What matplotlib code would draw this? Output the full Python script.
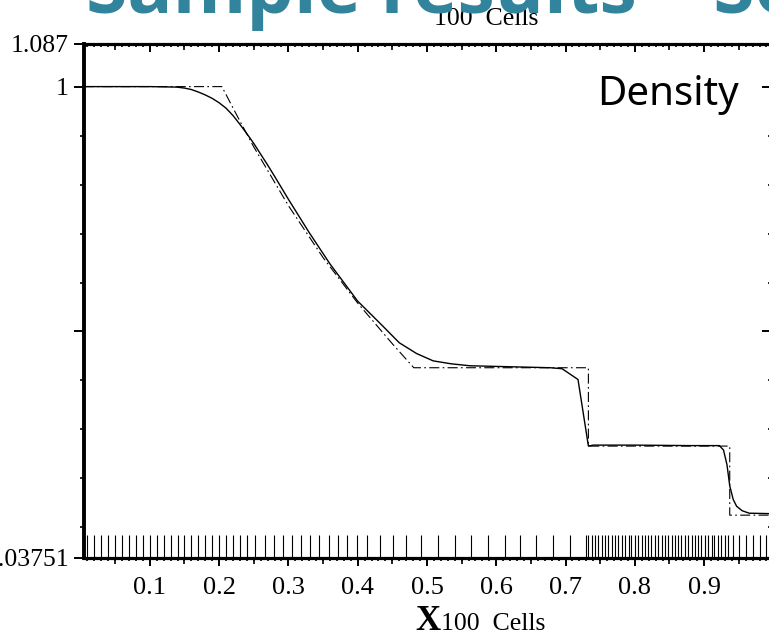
import matplotlib
matplotlib.use("Agg")
import matplotlib.pyplot as plt
from matplotlib.ticker import MultipleLocator, FixedLocator
import matplotlib.transforms as mtransforms

# exact (Riemann) solution
exact_x = [0.005, 0.204, 0.225, 0.25, 0.30, 0.35, 0.40, 0.45, 0.481,
           0.733, 0.733, 0.937, 0.937, 0.998]
exact_rho = [1.0, 1.0, 0.943, 0.877, 0.757, 0.651, 0.558, 0.475, 0.426,
             0.426, 0.266, 0.266, 0.125, 0.125]

# numerical solution (100 cells)
num_x = [0.005, 0.10, 0.139, 0.15, 0.16, 0.17, 0.18, 0.19, 0.20, 0.21,
         0.22, 0.23, 0.24, 0.25, 0.26, 0.27, 0.28, 0.30, 0.33, 0.36,
         0.40, 0.437, 0.46, 0.485, 0.509, 0.535, 0.562, 0.62, 0.678, 0.695,
         0.718, 0.733, 0.74, 0.80, 0.88, 0.922, 0.928, 0.933, 0.937, 0.942,
         0.947, 0.955, 0.965, 0.998]
num_rho = [1.0, 1.0, 0.999, 0.997, 0.994, 0.989, 0.983, 0.976, 0.967, 0.956,
           0.941, 0.923, 0.904, 0.884, 0.862, 0.840, 0.817, 0.770, 0.702, 0.638,
           0.562, 0.510, 0.477, 0.455, 0.440, 0.434, 0.430, 0.428, 0.426, 0.424,
           0.402, 0.266, 0.268, 0.268, 0.267, 0.267, 0.258, 0.228, 0.185, 0.157,
           0.143, 0.134, 0.129, 0.128]

# cell positions of the moving mesh (rug along the bottom)
cell_x = [0.010, 0.020, 0.030, 0.040, 0.050, 0.060, 0.070, 0.080, 0.090, 0.100,
          0.110, 0.120, 0.130, 0.140, 0.150, 0.160, 0.170, 0.180, 0.190, 0.200,
          0.210, 0.220, 0.230, 0.240,
          0.252, 0.266, 0.279, 0.292, 0.305, 0.318, 0.331, 0.344, 0.358, 0.371,
          0.385, 0.399, 0.414, 0.432, 0.451, 0.470,
          0.492, 0.516, 0.540, 0.564, 0.588, 0.612, 0.635, 0.658, 0.682, 0.706,
          0.729,
          0.733, 0.738, 0.743, 0.747, 0.752, 0.757, 0.762, 0.767, 0.771, 0.776,
          0.781, 0.786, 0.791, 0.795, 0.800, 0.805, 0.810, 0.815, 0.819, 0.824,
          0.829, 0.834, 0.839, 0.843, 0.848, 0.853, 0.858, 0.863, 0.867, 0.872,
          0.877, 0.882, 0.887, 0.891, 0.896, 0.901, 0.906, 0.911, 0.915, 0.920,
          0.925, 0.930, 0.935,
          0.941, 0.951, 0.961, 0.971, 0.981, 0.990]

y_ticks = [0.03751, 0.5, 1.0, 1.087]
y_labels = ["0.03751", "", "1", "1.087"]
x_ticks = [0.1, 0.2, 0.3, 0.4, 0.5, 0.6, 0.7, 0.8, 0.9]
mid_ticks = [0.05, 0.15, 0.25, 0.35, 0.45, 0.55, 0.65, 0.75, 0.85, 0.95]

serif = "Liberation Serif"

fig = plt.figure(figsize=(7.69, 6.41), dpi=100)
ax = fig.add_axes([84 / 769, 83 / 641, 688 / 769, 514 / 641])

ax.plot(exact_x, exact_rho, color="black", lw=0.8,
        linestyle=(0, (9, 3, 1.5, 3)))
ax.plot(num_x, num_rho, color="black", lw=1.0)

trans = mtransforms.blended_transform_factory(ax.transData, ax.transAxes)
ax.vlines(cell_x, 0, 0.045, transform=trans, color="black", lw=0.8)

ax.set_xlim(0.005, 0.998)
ax.set_ylim(0.03751, 1.087)

for side in ax.spines.values():
    side.set_linewidth(2.3)
ax.spines["left"].set_linewidth(2.8)

ax.set_xticks(x_ticks)
ax.set_xticklabels([f"{v:.1f}" for v in x_ticks])
ax.xaxis.set_minor_locator(MultipleLocator(0.01))
ax.set_yticks(y_ticks)
ax.set_yticklabels(y_labels)
ax.yaxis.set_minor_locator(FixedLocator([0.1, 0.2, 0.3, 0.4, 0.6, 0.7, 0.8, 0.9]))

ax.tick_params(axis="x", which="major", direction="out", length=6, width=1.4,
               top=True, labelsize=19, pad=8)
ax.tick_params(axis="x", which="minor", direction="out", length=2.5, width=1.2,
               top=True)
ax.tick_params(axis="y", which="major", direction="out", length=7, width=1.4,
               right=True, labelsize=18.5, pad=4)
ax.tick_params(axis="y", which="minor", direction="out", length=3, width=1.2,
               right=True)
# top and right ticks point the same way as bottom/left (down / left)
for t in ax.xaxis.get_major_ticks() + ax.xaxis.get_minor_ticks():
    t.tick2line.set_marker(3)
for t in ax.yaxis.get_major_ticks() + ax.yaxis.get_minor_ticks():
    t.tick2line.set_marker(0)
for lbl in ax.get_xticklabels() + ax.get_yticklabels():
    lbl.set_fontfamily(serif)

# medium ticks at the 0.05 marks
mid = ax.secondary_xaxis("bottom")
mid.set_xticks(mid_ticks)
mid.tick_params(direction="out", length=4, width=1.2, labelbottom=False)
mid.spines["bottom"].set_visible(False)
mid_top = ax.secondary_xaxis("top")
mid_top.set_xticks(mid_ticks)
mid_top.tick_params(direction="in", length=4, width=1.2, labeltop=False)
mid_top.spines["top"].set_visible(False)

ax.text(0.952, 0.9, "Density", transform=ax.transAxes, ha="right",
        va="center", fontsize=29, family="Noto Sans")

fig.text(486 / 769, 1 - 19 / 641, "100  Cells", ha="center", va="center",
         fontsize=18.5, family=serif)
fig.text(440 / 769, 1 - 630 / 641, "X", ha="right", va="baseline",
         fontsize=25, fontweight="bold", family=serif)
fig.text(441 / 769, 1 - 630 / 641, "100  Cells", ha="left", va="baseline",
         fontsize=18.5, family=serif)

# slide heading, cut off at the top of the picture
fig.text(86 / 769, 1 - 13 / 641, "Sample results \u2013 Sod shock tube",
         ha="left", va="baseline", fontsize=54, fontweight="bold",
         family="Open Sans", color="#31849b")

fig.savefig("out.png", dpi=100)
